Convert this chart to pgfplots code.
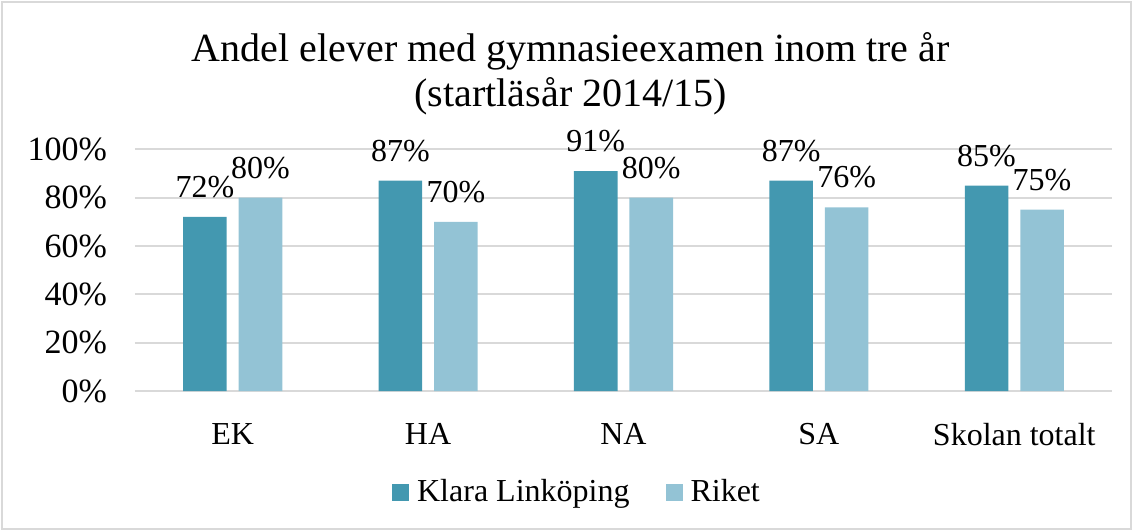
\documentclass[border=0pt]{standalone}
\usepackage{pgfplots}
\pgfplotsset{compat=1.18}
\usepackage{fontspec}
\setmainfont{Liberation Serif}
\definecolor{darkteal}{RGB}{67,152,176}
\definecolor{lightteal}{RGB}{147,195,213}
\definecolor{gridgray}{RGB}{217,217,217}
\begin{document}
\begin{tikzpicture}
\useasboundingbox (-67.5pt,-70pt) rectangle (499pt,195.5pt);
\draw[gridgray,line width=1pt] (-66.5pt,-69pt) rectangle (498pt,194.5pt);
\begin{axis}[
  at={(0,0)}, anchor=south west,
  scale only axis,
  width=488.5pt, height=120.85pt,
  xmin=-0.5, xmax=4.5,
  ymin=0, ymax=100,
  ytick={0,20,40,60,80,100},
  xtick=data,
  xticklabels={EK,HA,NA,SA,Skolan totalt},
  /pgf/number format/assume math mode=true,
  yticklabel={\pgfmathprintnumber{\tick}\%},
  ymajorgrids,
  grid style={gridgray, line width=1pt},
  axis line style={draw=none},
  major tick length=0pt,
  ybar=5.95pt,
  bar width=21.8pt,
  tick label style={font=\fontsize{16}{19}\selectfont},
  y tick label style={xshift=-10.5pt, font=\fontsize{17}{20}\selectfont},
  x tick label style={yshift=-12.5pt},
  nodes near coords={\pgfmathprintnumber{\pgfplotspointmeta}\%},
  every node near coord/.append style={font=\fontsize{16}{19}\selectfont, yshift=6pt},
  title={Andel elever med gymnasieexamen inom tre år\\(startläsår 2014/15)},
  title style={font=\fontsize{20}{22.5}\selectfont, align=center, at={(axis description cs:0.446,1)}, yshift=7.5pt},
  legend style={at={(222.5pt,-50.5pt)}, anchor=center, draw=none, legend columns=2,
    font=\fontsize{16}{19}\selectfont,
    /tikz/every even column/.append style={column sep=14pt},
    nodes={inner xsep=4pt}},
  legend image code/.code={\fill[#1] (0pt,-4.25pt) rectangle (8.5pt,4.25pt);},
]
\addplot[fill=darkteal, draw=none] coordinates {(0,72) (1,87) (2,91) (3,87) (4,85)};
\addplot[fill=lightteal, draw=none] coordinates {(0,80) (1,70) (2,80) (3,76) (4,75)};
\legend{Klara Linköping, Riket}
\end{axis}
\end{tikzpicture}
\end{document}
